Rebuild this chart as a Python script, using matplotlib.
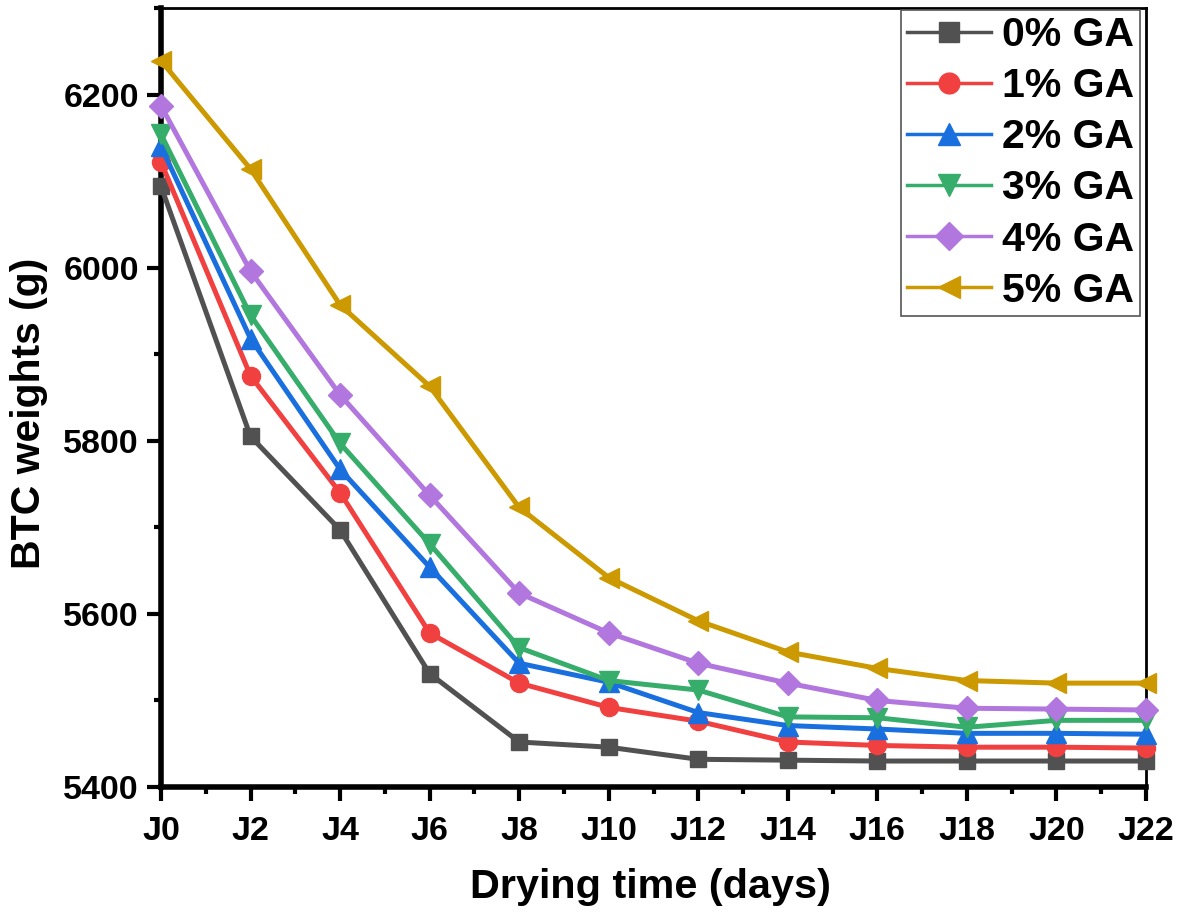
import matplotlib
matplotlib.use("Agg")
import matplotlib.pyplot as plt
from matplotlib.ticker import MultipleLocator

plt.rcParams['font.family'] = ['Liberation Sans', 'DejaVu Sans']
plt.rcParams['font.weight'] = 'bold'

days = ["J0", "J2", "J4", "J6", "J8", "J10", "J12", "J14", "J16", "J18", "J20", "J22"]
ga0 = [6094, 5805, 5697, 5531, 5452, 5446, 5432, 5431, 5430, 5430, 5430, 5430]
ga1 = [6122, 5875, 5740, 5578, 5520, 5492, 5476, 5452, 5448, 5446, 5446, 5445]
ga2 = [6140, 5918, 5767, 5654, 5543, 5521, 5486, 5471, 5467, 5462, 5462, 5461]
ga3 = [6154, 5945, 5797, 5681, 5561, 5523, 5512, 5481, 5480, 5469, 5477, 5477]
ga4 = [6187, 5996, 5853, 5737, 5624, 5578, 5543, 5520, 5500, 5491, 5490, 5489]
ga5 = [6239, 6114, 5957, 5863, 5723, 5642, 5592, 5556, 5537, 5523, 5520, 5520]

labels = ["0% GA", "1% GA", "2% GA", "3% GA", "4% GA", "5% GA"]
series = [ga0, ga1, ga2, ga3, ga4, ga5]
colors = ["#515151", "#F14040", "#1A6FDF", "#37AD6B", "#B177DE", "#CC9900"]
markers = ["s", "o", "^", "v", "D", "<"]
msizes = [12, 13, 14, 14, 12, 14]

fig = plt.figure(figsize=(11.87, 9.16), dpi=100)
ax = fig.add_axes([161/1187, 1-787/916, (1146-161)/1187, (787-8)/916])

x = list(range(len(days)))
handles = []
for y, lab, c, m, ms in zip(series, labels, colors, markers, msizes):
    h, = ax.plot(x, y, color=c, marker=m, markersize=ms, linewidth=3.6,
                 label=lab, clip_on=False, zorder=3)
    handles.append(h)

ax.set_xlim(0, 11)
ax.set_ylim(5400, 6300)
ax.set_xticks(x)
ax.set_xticklabels(days)
ax.xaxis.set_minor_locator(MultipleLocator(0.5))
ax.set_yticks([5400, 5600, 5800, 6000, 6200])
ax.yaxis.set_minor_locator(MultipleLocator(100))

ax.tick_params(axis='both', which='major', direction='out', length=10, width=3,
               labelsize=24.5)
ax.tick_params(axis='x', which='major', pad=11)
ax.tick_params(axis='y', which='major', pad=6)
ax.tick_params(axis='both', which='minor', direction='out', length=5, width=3)
ax.tick_params(top=False, right=False, which='both')
for lbl in ax.get_xticklabels() + ax.get_yticklabels():
    lbl.set_fontweight('bold')

ax.spines['left'].set_linewidth(4)
ax.spines['bottom'].set_linewidth(4)
ax.spines['top'].set_linewidth(2)
ax.spines['right'].set_linewidth(2)

ax.set_xlabel("Drying time (days)", fontsize=29.8, fontweight='bold')
ax.set_ylabel("BTC weights (g)", fontsize=29.5, fontweight='bold')
ax.xaxis.set_label_coords(0.497, -0.104)
ax.yaxis.set_label_coords(-0.115, 0.48)

leg = ax.legend(handles=handles, loc='upper right',
                bbox_to_anchor=(1140/1187, 1-10/916), bbox_transform=fig.transFigure,
                prop={'size': 29.5, 'weight': 'bold'}, frameon=True, fancybox=False,
                edgecolor='#555555', framealpha=1, handlelength=2.05,
                handletextpad=0.25, labelspacing=0.32, borderpad=0.15,
                borderaxespad=0, markerscale=1.15)
leg.get_frame().set_linewidth(1.2)
for lh in leg.get_lines():
    lh.set_linewidth(2.5)

fig.savefig("out.png", dpi=100)
